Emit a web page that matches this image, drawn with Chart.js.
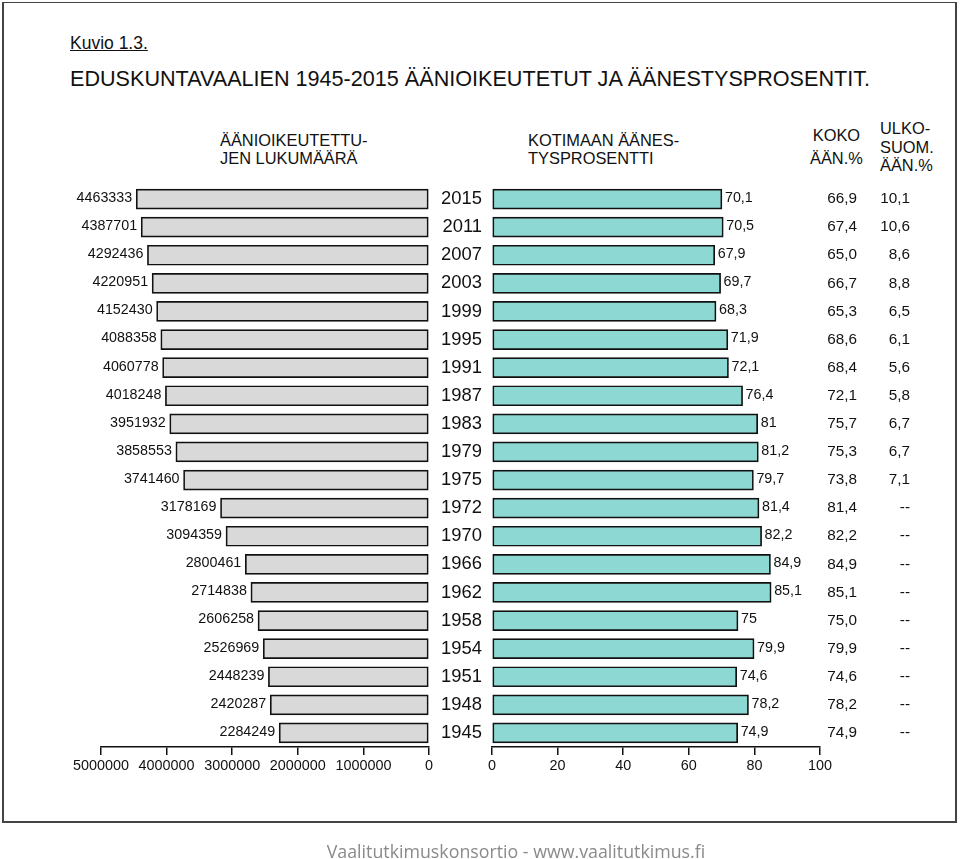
<!DOCTYPE html>
<html>
<head>
<meta charset="utf-8">
<script src="https://cdn.jsdelivr.net/npm/chart.js@4/dist/chart.umd.min.js"></script>
<style>
  html, body { margin: 0; padding: 0; background: #fff; }
  body { width: 960px; height: 859px; position: relative; overflow: hidden; font-family: "Liberation Sans", Arial, sans-serif; color: #111; }
  .frame { position: absolute; left: 2px; top: 2px; width: 951px; height: 818px; border: 2px solid #444; border-top-width: 1px; }
  .txt { position: absolute; white-space: nowrap; line-height: 1; }
  canvas { position: absolute; top: 0; }
  #cLeft { left: 0; }
  #cRight { left: 429px; }
  .foot { position: absolute; left: 0; width: 1032px; top: 839px; text-align: center; font-family: "Open Sans", sans-serif; font-size: 17.8px; color: #8a8a8a; }
</style>
</head>
<body>
<div class="frame"></div>
<div class="txt" style="left:70px;top:35px;font-size:17.5px;text-decoration:underline;">Kuvio 1.3.</div>
<div class="txt" style="left:70px;top:68px;font-size:21.6px;">EDUSKUNTAVAALIEN 1945-2015 ÄÄNIOIKEUTETUT JA ÄÄNESTYSPROSENTIT.</div>
<div class="txt" style="left:220px;top:131px;font-size:16.4px;line-height:18px;">ÄÄNIOIKEUTETTU-<br>JEN LUKUMÄÄRÄ</div>
<div class="txt" style="left:528px;top:131px;font-size:16.4px;line-height:18px;">KOTIMAAN ÄÄNES-<br>TYSPROSENTTI</div>
<div class="txt" style="left:810px;top:124px;font-size:16.4px;line-height:23px;text-align:center;">KOKO<br>ÄÄN.%</div>
<div class="txt" style="left:880px;top:119px;font-size:16.4px;line-height:18.5px;">ULKO-<br>SUOM.<br>ÄÄN.%</div>
<canvas id="cLeft" width="440" height="859" style="width:440px;height:859px"></canvas>
<canvas id="cRight" width="531" height="859" style="width:531px;height:859px"></canvas>
<div class="foot">Vaalitutkimuskonsortio - www.vaalitutkimus.fi</div>
<script>
// vaalivuodet uusimmasta vanhimpaan
var vuodet = ["2015", "2011", "2007", "2003", "1999", "1995", "1991", "1987", "1983", "1979",
  "1975", "1972", "1970", "1966", "1962", "1958", "1954", "1951", "1948", "1945"];
var aanioikeutetut = [4463333, 4387701, 4292436, 4220951, 4152430, 4088358, 4060778, 4018248, 3951932, 3858553,
  3741460, 3178169, 3094359, 2800461, 2714838, 2606258, 2526969, 2448239, 2420287, 2284249];
var kotimaanPros = [70.1, 70.5, 67.9, 69.7, 68.3, 71.9, 72.1, 76.4, 81, 81.2,
  79.7, 81.4, 82.2, 84.9, 85.1, 75, 79.9, 74.6, 78.2, 74.9];
var kokoPros = ["66,9", "67,4", "65,0", "66,7", "65,3", "68,6", "68,4", "72,1", "75,7", "75,3",
  "73,8", "81,4", "82,2", "84,9", "85,1", "75,0", "79,9", "74,6", "78,2", "74,9"];
var ulkoPros = ["10,1", "10,6", "8,6", "8,8", "6,5", "6,1", "5,6", "5,8", "6,7", "6,7",
  "7,1", "--", "--", "--", "--", "--", "--", "--", "--", "--"];
var vasenTicks = [0, 1000000, 2000000, 3000000, 4000000, 5000000];

var FONT = '"Liberation Sans", Arial, sans-serif';
Chart.defaults.font.family = FONT;
Chart.defaults.color = "#111";
Chart.defaults.animation = false;

function fmt(v) { return String(v).replace(".", ","); }

var valueLabels = {
  id: "valueLabels",
  afterDatasetsDraw: function (chart, args, opts) {
    var ctx = chart.ctx;
    var meta = chart.getDatasetMeta(0);
    ctx.save();
    ctx.font = "14.3px " + FONT;
    ctx.fillStyle = "#111";
    ctx.textBaseline = "middle";
    meta.data.forEach(function (bar, i) {
      var v = chart.data.datasets[0].data[i];
      if (opts.side === "left") {
        ctx.textAlign = "right";
        ctx.fillText(String(v), bar.x - 4, bar.y - 1);
      } else {
        ctx.textAlign = "left";
        ctx.fillText(fmt(v), bar.x + 3, bar.y - 1);
      }
    });
    if (opts.side === "right") {
      var right = chart.chartArea.right;
      ctx.font = "15.3px " + FONT;
      ctx.textAlign = "right";
      meta.data.forEach(function (bar, i) {
        ctx.fillText(kokoPros[i], right + 37, bar.y);
        ctx.fillText(ulkoPros[i], right + 90, bar.y);
      });
    }
    ctx.restore();
  }
};

function fitX(s) { s.height = 40; }

new Chart(document.getElementById("cLeft"), {
  type: "bar",
  data: {
    labels: vuodet,
    datasets: [{
      data: aanioikeutetut,
      backgroundColor: "#d9d9d9",
      borderColor: "#111",
      borderWidth: 1.7,
      borderSkipped: false,
      barThickness: 20
    }]
  },
  options: {
    indexAxis: "y",
    responsive: false,
    layout: { padding: { left: 101, right: 11, top: 185, bottom: 72 } },
    plugins: { legend: { display: false }, tooltip: { enabled: false }, valueLabels: { side: "left" } },
    scales: {
      x: {
        reverse: true,
        min: 0,
        max: 5000000,
        afterFit: fitX,
        afterBuildTicks: function (s) { s.ticks = vasenTicks.map(function (v) { return { value: v }; }); },
        ticks: { font: { size: 14.4 }, padding: 2, maxRotation: 0, autoSkip: false, callback: function (v) { return String(v); } },
        grid: { drawOnChartArea: false, drawTicks: true, tickLength: 8, color: "#111", lineWidth: 1.5 },
        border: { display: true, color: "#111", width: 1.5 }
      },
      y: { display: false }
    }
  },
  plugins: [valueLabels]
});

new Chart(document.getElementById("cRight"), {
  type: "bar",
  data: {
    labels: vuodet,
    datasets: [{
      data: kotimaanPros,
      backgroundColor: "#8dd8d2",
      borderColor: "#111",
      borderWidth: 1.7,
      borderSkipped: false,
      barThickness: 20
    }]
  },
  options: {
    indexAxis: "y",
    responsive: false,
    layout: { padding: { left: 0, right: 140, top: 185, bottom: 72 } },
    plugins: { legend: { display: false }, tooltip: { enabled: false }, valueLabels: { side: "right" } },
    scales: {
      x: {
        min: 0,
        max: 100,
        afterFit: fitX,
        ticks: { stepSize: 20, font: { size: 14.4 }, padding: 2, maxRotation: 0 },
        grid: { drawOnChartArea: false, drawTicks: true, tickLength: 8, color: "#111", lineWidth: 1.5 },
        border: { display: true, color: "#111", width: 1.5 }
      },
      y: {
        afterFit: function (s) { s.width = 63; },
        ticks: { font: { size: 18.4 }, padding: 2, color: "#111" },
        grid: { display: false },
        border: { display: false }
      }
    }
  },
  plugins: [valueLabels]
});
</script>
</body>
</html>
